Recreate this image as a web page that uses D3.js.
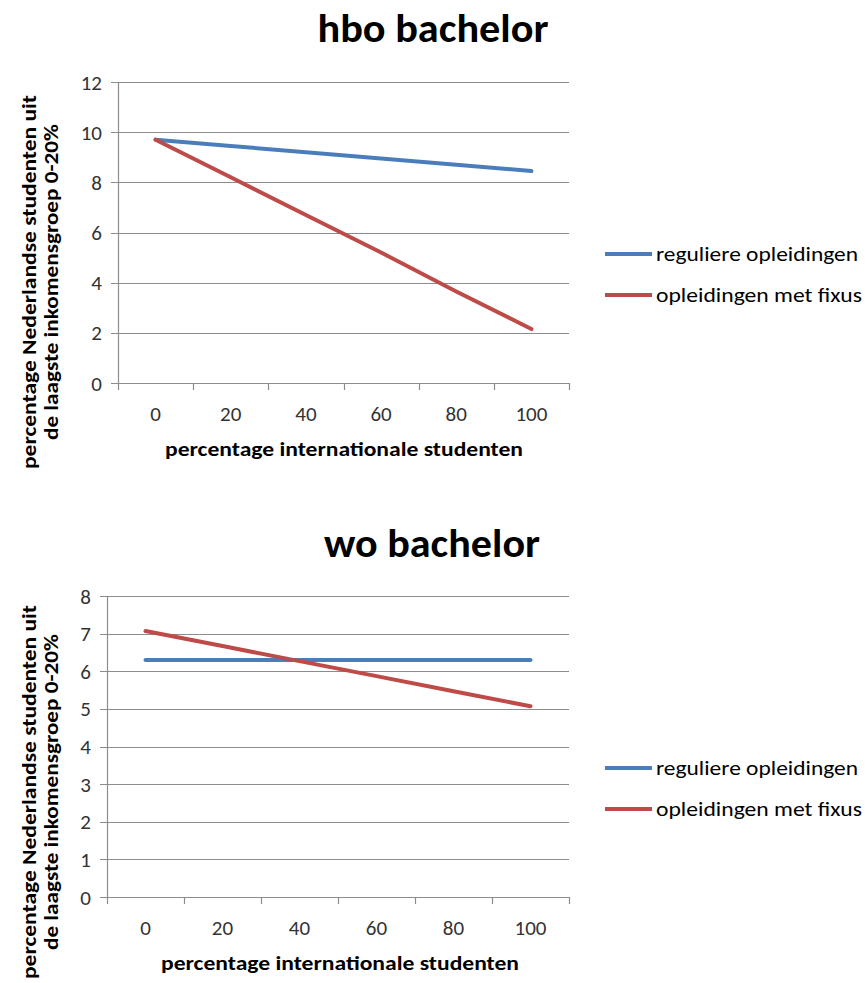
<!DOCTYPE html>
<html><head><meta charset="utf-8">
<script src="https://cdn.jsdelivr.net/npm/d3@7"></script>
<style>body{margin:0;background:#fff}</style>
</head><body>
<script>
const categories = ["0","20","40","60","80","100"];
const seriesNames = ["reguliere opleidingen","opleidingen met fixus"];
const seriesColors = ["#4A7EBB","#BE4B48"];
const hboRegulier = [9.7,9.45,9.2,8.95,8.7,8.45];
const hboFixus = [9.7,8.2,6.7,5.2,3.65,2.15];
const woRegulier = [6.3,6.3,6.3,6.3,6.3,6.3];
const woFixus = [7.07,6.67,6.27,5.87,5.47,5.07];
const hboTicks = [0,2,4,6,8,10,12];
const woTicks = [0,1,2,3,4,5,6,7,8];

const FONT = "Carlito, Calibri, Lato, 'Open Sans', sans-serif";
const svg = d3.select("body").append("svg").attr("width",867).attr("height",983)
  .style("font-family",FONT);

function fitText(sel, w){
  const bb = sel.node().getComputedTextLength();
  if (bb > 0) sel.attr("textLength", w).attr("lengthAdjust","spacingAndGlyphs");
}

function chart(cfg){
  const g = svg.append("g");
  const x = d3.scaleBand().domain(categories).range([cfg.x0,cfg.x1]);
  const y = d3.scaleLinear().domain([0,cfg.ymax]).range([cfg.y0,cfg.y1]);
  g.selectAll(".grid").data(cfg.ticks).join("line")
    .attr("x1",cfg.x0-7).attr("x2",cfg.x1)
    .attr("y1",d=>Math.round(y(d))+0.5).attr("y2",d=>Math.round(y(d))+0.5)
    .attr("stroke","#8c8c8c").attr("stroke-width",1.2);
  g.append("line").attr("x1",cfg.x0+0.5).attr("x2",cfg.x0+0.5)
    .attr("y1",y(cfg.ymax)).attr("y2",y(0)).attr("stroke","#8c8c8c").attr("stroke-width",1.2);
  const bounds = categories.map(c=>x(c)).concat([cfg.x1]);
  g.selectAll(".xt").data(bounds).join("line")
    .attr("x1",d=>Math.round(d)+0.5).attr("x2",d=>Math.round(d)+0.5)
    .attr("y1",y(0)).attr("y2",y(0)+7).attr("stroke","#8c8c8c").attr("stroke-width",1.2);
  g.selectAll(".yl").data(cfg.ticks).join("text")
    .attr("x",cfg.x0-16).attr("y",d=>y(d)).attr("dy","0.36em")
    .attr("text-anchor","end").attr("font-size",21).attr("fill","#333").text(d=>d);
  g.selectAll(".xl").data(categories).join("text")
    .attr("x",d=>x(d)+x.bandwidth()/2).attr("y",cfg.xlabY)
    .attr("text-anchor","middle").attr("font-size",21).attr("fill","#333").text(d=>d);
  const line = d3.line().x((d,i)=>x(categories[i])+x.bandwidth()/2).y(d=>y(d));
  cfg.series.forEach((s,i)=>{
    g.append("path").attr("d",line(s)).attr("fill","none")
      .attr("stroke",seriesColors[i]).attr("stroke-width",4).attr("stroke-linecap","round");
  });
  const t = g.append("text").attr("x",cfg.titleX).attr("y",cfg.titleY).attr("text-anchor","middle")
    .attr("font-size",40).attr("font-weight","bold").attr("fill","#000").text(cfg.title);
  fitText(t, cfg.titleW);
  const xt = g.append("text").attr("x",cfg.xTitleX).attr("y",cfg.xTitleY).attr("text-anchor","middle")
    .attr("font-size",20).attr("font-weight","bold").attr("fill","#000")
    .text("percentage internationale studenten");
  fitText(xt, 358);
  const yt = g.append("g").attr("transform",`translate(36,${cfg.yTitleC}) rotate(-90)`);
  const l1 = yt.append("text").attr("x",0).attr("y",0).attr("text-anchor","middle")
    .attr("font-size",20).attr("font-weight","bold").attr("fill","#000")
    .text("percentage Nederlandse studenten uit");
  fitText(l1, 374);
  const l2 = yt.append("text").attr("x",0).attr("y",22).attr("text-anchor","middle")
    .attr("font-size",20).attr("font-weight","bold").attr("fill","#000")
    .text("de laagste inkomensgroep 0-20%");
  fitText(l2, 316);
  seriesNames.forEach((n,i)=>{
    const ly = cfg.legY + i*41;
    g.append("line").attr("x1",605).attr("x2",652).attr("y1",ly).attr("y2",ly)
      .attr("stroke",seriesColors[i]).attr("stroke-width",4);
    const lt = g.append("text").attr("x",656).attr("y",ly).attr("dy","0.35em")
      .attr("font-size",21).attr("fill","#000").text(n);
    fitText(lt, i===0 ? 202 : 206);
  });
}

chart({x0:118,x1:569,y0:383,y1:82,ymax:12,ticks:hboTicks,series:[hboRegulier,hboFixus],
  title:"hbo bachelor",titleX:433,titleW:231,titleY:42,xlabY:421,xTitleX:344,xTitleY:456,yTitleC:282,legY:254});
chart({x0:107,x1:569,y0:897,y1:596,ymax:8,ticks:woTicks,series:[woRegulier,woFixus],
  title:"wo bachelor",titleX:432,titleW:216,titleY:557,xlabY:935,xTitleX:340,xTitleY:970,yTitleC:792,legY:768});
</script>
</body></html>
